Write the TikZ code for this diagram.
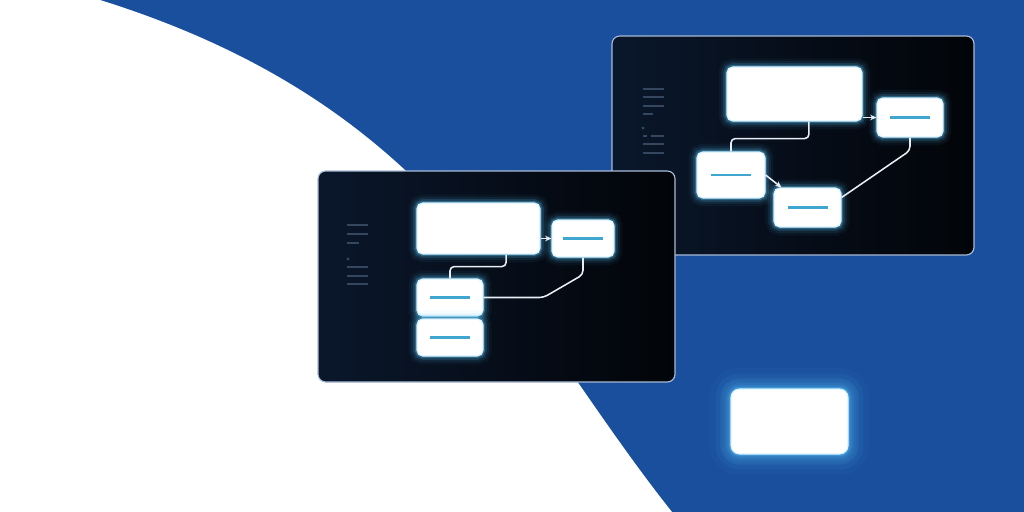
\documentclass[tikz,border=0pt]{standalone}
\usepackage{xcolor}
\usetikzlibrary{arrows.meta}
\definecolor{bgblue}{HTML}{1A4F9E}
\definecolor{panelL}{HTML}{0A172B}
\definecolor{panelR}{HTML}{020408}
\definecolor{rimc}{HTML}{A8BCD8}
\definecolor{glowc}{HTML}{5CCBFF}
\definecolor{barc}{HTML}{3FA6D0}
\definecolor{sidec}{HTML}{34475F}
\definecolor{wirec}{HTML}{E8EEF6}

\begin{document}
\begin{tikzpicture}[x=0.025cm,y=-0.025cm,
    panel/.style 2 args={shape=rectangle,rounded corners=5.5pt,draw=rimc,line width=0.8pt,left color=panelL,middle color=panelR,right color=panelR,
      minimum width=#1*0.025cm,minimum height=#2*0.025cm,inner sep=0pt},
    box/.style 2 args={shape=rectangle,rounded corners=4pt,fill=white,draw=glowc!25!white,line width=0.8pt,
      minimum width=#1*0.025cm,minimum height=#2*0.025cm,inner sep=0pt,
      preaction={draw=glowc,line width=12pt,opacity=0.05},
      preaction={draw=glowc,line width=8.5pt,opacity=0.08},
      preaction={draw=glowc,line width=5.5pt,opacity=0.14},
      preaction={draw=glowc,line width=3pt,opacity=0.30}},
    beacon/.style={box={117}{65},rounded corners=6pt,
      preaction={draw=glowc,line width=30pt,opacity=0.04},
      preaction={draw=glowc,line width=22pt,opacity=0.06},
      preaction={draw=glowc,line width=15pt,opacity=0.10}},
    wire/.style={draw=wirec,line width=1.1pt,rounded corners=3pt},
    tip/.style={-{Stealth[length=4.5pt,width=4pt]}},
    bar/.style={barc,line width=1.9pt},
    side/.style={sidec,line width=1.3pt}]
  \useasboundingbox (0,0) rectangle (1024,512);
  \fill[bgblue] (0,0) rectangle (1024,512);
  \fill[white] (0,0) -- (100,0) .. controls (445,108) and (517,317) .. (672,512) -- (0,512) -- cycle;

  % back window
  \node[panel={362}{219}] (p1) at (793,145.5) {};
  \foreach \y in {89,97,106,144,153} \draw[side] (643,\y) -- (664,\y);
  \draw[side] (643,114) -- (653,114);
  \fill[sidec] (643,128) circle (1.2pt);
  \draw[side] (643,136) -- (647,136) (651,136) -- (664,136);
  \node[box={135}{54}] (a1) at (794.5,94) {};
  \node[box={66}{39}] (a2) at (910,117.5) {};
  \node[box={68}{46}] (a3) at (731,175) {};
  \node[box={67}{39}] (a4) at (807.5,207.5) {};
  \draw[wire,tip] (a1.east |- a2.west) -- (a2.west);
  \draw[wire] ([xshift=0.36cm]a1.south) -- ++(0,17) -| (a3.north);
  \draw[wire,tip] (a3.east) -- ([xshift=0.2cm]a4.north west);
  \draw[wire] (a2.south) -- ++(0,13) -- ([yshift=0.25cm]a4.east);

  % front window
  \node[panel={357}{211}] (p2) at (496.5,276.5) {};
  \foreach \y in {225,234,267,276,284} \draw[side] (347,\y) -- (368,\y);
  \draw[side] (347,243) -- (359,243);
  \fill[sidec] (348,259) circle (1.2pt);
  \node[box={123}{51}] (b1) at (478.5,228.5) {};
  \node[box={62}{37}] (b2) at (583,238.5) {};
  \node[box={66}{37}] (b3) at (450,297.5) {};
  \node[box={66}{37}] (b4) at (450,337.5) {};
  \draw[wire,tip] (b1.east |- b2.west) -- (b2.west);
  \draw[wire] ([xshift=0.69cm]b1.south) -- ++(0,12) -| (b3.north);
  \draw[wire] (b2.south) -- ++(0,17) -- ([xshift=1.5cm]b3.east) -- (b3.east);

  \foreach \n in {a2,a3,a4,b2,b3,b4}
    \draw[bar] ([xshift=-0.5cm]\n.center) -- ([xshift=0.5cm]\n.center);

  % loose glowing card
  \node[beacon] (g) at (789.5,421.5) {};
\end{tikzpicture}
\end{document}
